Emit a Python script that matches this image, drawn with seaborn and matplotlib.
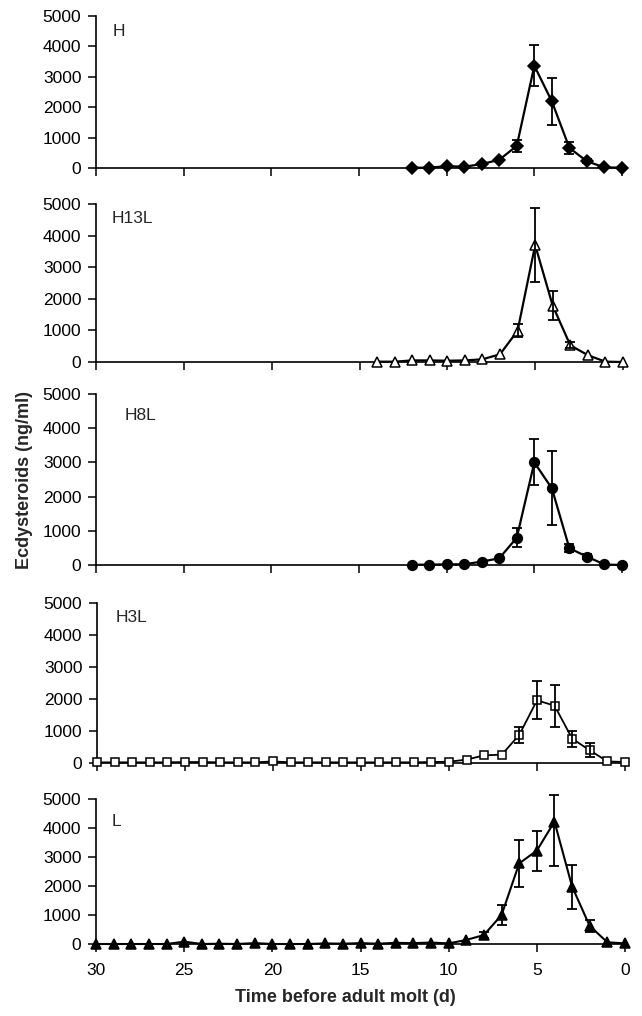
import numpy as np
import pandas as pd
import seaborn as sns
import matplotlib
matplotlib.use("Agg")
import matplotlib.pyplot as plt

# valores (ng/ml), dias antes de la muda adulta
days_H = list(range(12, -1, -1))
H_mean = [10, 10, 60, 40, 130, 270, 730, 3365, 2190, 660, 220, 20, 10]
H_err = [0, 0, 0, 0, 0, 0, 190, 670, 760, 190, 60, 0, 0]

days_H13L = list(range(14, -1, -1))
H13L_mean = [10, 10, 50, 50, 40, 50, 85, 245, 990, 3700, 1780, 530, 215, 10, 0]
H13L_err = [0, 0, 0, 0, 0, 0, 0, 0, 210, 1180, 460, 100, 0, 0, 0]

days_H8L = list(range(12, -1, -1))
H8L_mean = [10, 10, 20, 20, 100, 195, 800, 3000, 2240, 490, 245, 15, 0]
H8L_err = [0, 0, 0, 0, 0, 0, 280, 670, 1080, 120, 80, 0, 0]

days_H3L = list(range(30, -1, -1))
H3L_mean = [20, 20, 20, 20, 20, 30, 30, 20, 20, 20, 50, 20, 20, 20, 20, 20, 20, 20, 20, 30, 40,
            105, 240, 260, 885, 1960, 1790, 760, 395, 50, 30]
H3L_err = [0] * 21 + [0, 0, 0, 250, 600, 660, 245, 220, 0, 0]

days_L = list(range(30, -1, -1))
L_mean = [0, 0, 0, 0, 0, 80, 0, 10, 0, 30, 0, 0, 0, 20, 10, 30, 10, 40, 30, 50, 20,
          140, 310, 1000, 2780, 3220, 4220, 1980, 620, 60, 20]
L_err_lo = [0] * 21 + [0, 100, 330, 815, 690, 1530, 760, 200, 0, 0]
L_err_hi = [0] * 21 + [0, 100, 330, 815, 690, 920, 760, 200, 0, 0]

labels = ["H", "H13L", "H8L", "H3L", "L"]
yticks = [0, 1000, 2000, 3000, 4000, 5000]
xticks = [30, 25, 20, 15, 10, 5, 0]

sns.set_style("ticks")
plt.rcParams['font.family'] = ['Liberation Sans', 'DejaVu Sans']

W, H = 642, 1016
fig = plt.figure(figsize=(W / 100, H / 100), dpi=100)

# (x0, x1, y0, y1) en pixeles, y desde arriba
boxes = [(96, 622, 16, 168), (96, 623, 204, 362), (96, 622, 394, 565),
         (97, 625, 603, 763), (96, 625, 799, 944)]
lab_pos = [(113, 31), (112, 218), (125, 416), (116, 617), (112, 822)]

panels = [
    (days_H, H_mean, [H_err, H_err], dict(marker='D', mfc='black', ms=6, lw=1.6)),
    (days_H13L, H13L_mean, [H13L_err, H13L_err], dict(marker='^', mfc='white', ms=7.5, lw=1.6)),
    (days_H8L, H8L_mean, [H8L_err, H8L_err], dict(marker='o', mfc='black', ms=7, lw=1.6)),
    (days_H3L, H3L_mean, [H3L_err, H3L_err], dict(marker='s', mfc='white', ms=5.5, lw=1.3)),
    (days_L, L_mean, [L_err_lo, L_err_hi], dict(marker='^', mfc='black', ms=7, lw=1.5)),
]

for i, (box, (d, m, err, mk)) in enumerate(zip(boxes, panels)):
    x0, x1, y0, y1 = box
    ax = fig.add_axes([x0 / W, 1 - y1 / H, (x1 - x0) / W, (y1 - y0) / H])
    df = pd.DataFrame({'day': d, 'val': m, 'lo': err[0], 'hi': err[1]})

    sns.lineplot(data=df, x='day', y='val', color='black', lw=mk['lw'], ax=ax,
                 marker=mk['marker'], markersize=mk['ms'], markerfacecolor=mk['mfc'],
                 markeredgecolor='black', markeredgewidth=1.1, clip_on=False, zorder=3)
    e = df[(df.lo > 0) | (df.hi > 0)]
    ax.errorbar(e.day, e.val, yerr=[e.lo, e.hi], fmt='none', ecolor='black',
                elinewidth=1.3, capsize=3.5, capthick=1.3, clip_on=False, zorder=4)

    ax.set_xlim(30, 0)
    ax.set_ylim(0, 5000)
    ax.set_yticks(yticks)
    ax.set_xticks(xticks)
    ax.tick_params(axis='both', direction='out', length=5.5, width=1.1, labelsize=12.5,
                   colors='black')
    ax.tick_params(axis='y', pad=5)
    if i < 4:
        ax.set_xticklabels([])
    else:
        ax.tick_params(axis='x', pad=8)
    ax.set_xlabel('')
    ax.set_ylabel('')
    for s in ['left', 'bottom']:
        ax.spines[s].set_linewidth(1.2)
        ax.spines[s].set_color('black')
    sns.despine(ax=ax)
    fig.text(lab_pos[i][0] / W, 1 - lab_pos[i][1] / H, labels[i], fontsize=12.5,
             ha='left', va='center')

fig.text(25 / W, 1 - 480 / H, 'Ecdysteroids (ng/ml)', rotation=90, fontsize=13,
         fontweight='bold', ha='center', va='center')
fig.text(345 / W, 1 - 997 / H, 'Time before adult molt (d)', fontsize=13,
         fontweight='bold', ha='center', va='center')

fig.savefig('out.png', dpi=100)
